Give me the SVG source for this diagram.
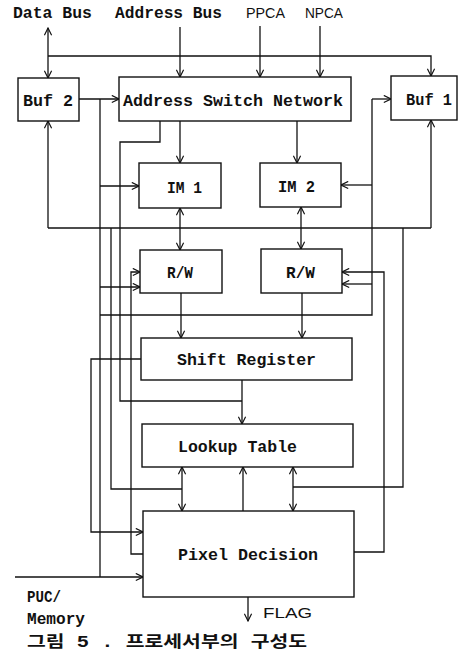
<svg xmlns="http://www.w3.org/2000/svg" width="461" height="652" viewBox="0 0 461 652">
<style>
.box{fill:#fff;stroke:#111;stroke-width:1.4}
.ln{fill:none;stroke:#111;stroke-width:1.3}
.a{marker-end:url(#ah)}
.b{marker-start:url(#ah);marker-end:url(#ah)}
.t{font-family:"Liberation Mono",monospace;font-weight:bold;font-size:17px;fill:#111}
.s{font-family:"Liberation Sans",sans-serif;font-size:15px;fill:#111}
.k{font-family:"Liberation Mono","Noto Sans CJK KR",monospace;font-weight:bold;font-size:16px;fill:#111}
</style>
<defs>
<marker id="ah" viewBox="0 0 10 10" refX="9" refY="5" markerWidth="9" markerHeight="9" markerUnits="userSpaceOnUse" orient="auto-start-reverse">
<path d="M1,1 L9,5 L1,9" fill="none" stroke="#111" stroke-width="1.3"/>
</marker>
</defs>
<rect width="461" height="652" fill="#fff"/>
<g id="connectors">
<line class="ln b" x1="48" y1="28" x2="48" y2="78"/>
<polyline class="ln a" points="48,56 431,56 431,76"/>
<line class="ln a" x1="180" y1="27" x2="180" y2="77"/>
<line class="ln a" x1="260" y1="26" x2="260" y2="77"/>
<line class="ln a" x1="320" y1="26" x2="320" y2="77"/>
<line class="ln a" x1="79" y1="99" x2="119" y2="99"/>
<polyline class="ln" points="100,99 100,577"/>
<line class="ln a" x1="100" y1="186" x2="139" y2="186"/>
<line class="ln a" x1="100" y1="287" x2="140" y2="287"/>
<line class="ln a" x1="372" y1="99" x2="391" y2="99"/>
<polyline class="ln" points="372,99 372,315 100,315"/>
<line class="ln a" x1="372" y1="185" x2="341" y2="185"/>
<line class="ln a" x1="372" y1="284" x2="342" y2="284"/>
<polyline class="ln a" points="48,228 48,121"/>
<line class="ln" x1="48" y1="228" x2="431" y2="228"/>
<polyline class="ln a" points="431,228 431,120"/>
<polyline class="ln" points="111,228 111,489 182,489"/>
<polyline class="ln" points="160,121 160,142 120,142 120,401 242,401"/>
<line class="ln a" x1="180" y1="121" x2="180" y2="163"/>
<line class="ln a" x1="297" y1="121" x2="297" y2="163"/>
<line class="ln b" x1="180" y1="208" x2="180" y2="250"/>
<line class="ln b" x1="301" y1="207" x2="301" y2="249"/>
<line class="ln a" x1="181" y1="293" x2="181" y2="338"/>
<line class="ln a" x1="302" y1="293" x2="302" y2="338"/>
<polyline class="ln a" points="143,554 131,554 131,272 140,272"/>
<polyline class="ln a" points="354,552 384,552 384,272 342,272"/>
<polyline class="ln" points="403,228 403,487 293,487"/>
<line class="ln a" x1="242" y1="380" x2="242" y2="424"/>
<polyline class="ln a" points="141,359 91,359 91,532 143,532"/>
<line class="ln a" x1="15" y1="577" x2="143" y2="577"/>
<line class="ln b" x1="182" y1="467" x2="182" y2="511"/>
<line class="ln a" x1="243" y1="511" x2="243" y2="467"/>
<line class="ln b" x1="293" y1="467" x2="293" y2="511"/>
<line class="ln a" x1="248" y1="597" x2="248" y2="621"/>
</g>
<g id="buf2"><rect class="box" x="18" y="78" width="61" height="43"/><text class="t" x="23" y="106" textLength="50" lengthAdjust="spacingAndGlyphs">Buf 2</text></g>
<g id="asn"><rect class="box" x="119" y="77" width="232" height="44"/><text class="t" x="123" y="106" textLength="220" lengthAdjust="spacingAndGlyphs">Address Switch Network</text></g>
<g id="buf1"><rect class="box" x="391" y="76" width="66" height="44"/><text class="t" x="406" y="105" textLength="46" lengthAdjust="spacingAndGlyphs">Buf 1</text></g>
<g id="im1"><rect class="box" x="139" y="163" width="82" height="45"/><text class="t" x="167" y="193" textLength="35" lengthAdjust="spacingAndGlyphs">IM 1</text></g>
<g id="im2"><rect class="box" x="260" y="163" width="81" height="44"/><text class="t" x="278" y="192" textLength="37" lengthAdjust="spacingAndGlyphs">IM 2</text></g>
<g id="rw1"><rect class="box" x="140" y="250" width="82" height="43"/><text class="t" x="167" y="278" textLength="26" lengthAdjust="spacingAndGlyphs">R/W</text></g>
<g id="rw2"><rect class="box" x="261" y="249" width="81" height="44"/><text class="t" x="286" y="278" textLength="29" lengthAdjust="spacingAndGlyphs">R/W</text></g>
<g id="shift"><rect class="box" x="141" y="338" width="211" height="42"/><text class="t" x="177" y="365" textLength="139" lengthAdjust="spacingAndGlyphs">Shift Register</text></g>
<g id="lookup"><rect class="box" x="142" y="424" width="211" height="43"/><text class="t" x="178" y="452" textLength="119" lengthAdjust="spacingAndGlyphs">Lookup Table</text></g>
<g id="pixel"><rect class="box" x="143" y="511" width="211" height="86"/><text class="t" x="178" y="560" textLength="140" lengthAdjust="spacingAndGlyphs">Pixel Decision</text></g>
<g id="labels">
<text class="t" x="13" y="18" textLength="79" lengthAdjust="spacingAndGlyphs">Data Bus</text>
<text class="t" x="115" y="18" textLength="107" lengthAdjust="spacingAndGlyphs">Address Bus</text>
<text class="s" x="246" y="18" textLength="39" lengthAdjust="spacingAndGlyphs">PPCA</text>
<text class="s" x="305" y="18" textLength="38" lengthAdjust="spacingAndGlyphs">NPCA</text>
<text class="t" x="27" y="602" textLength="34" lengthAdjust="spacingAndGlyphs">PUC/</text>
<text class="t" x="27" y="624" textLength="58" lengthAdjust="spacingAndGlyphs">Memory</text>
<text class="s" x="263" y="618" textLength="49" lengthAdjust="spacingAndGlyphs">FLAG</text>
<text class="k" x="27" y="647" textLength="280" lengthAdjust="spacingAndGlyphs">그림 5 . 프로세서부의 구성도</text>
</g>
</svg>
